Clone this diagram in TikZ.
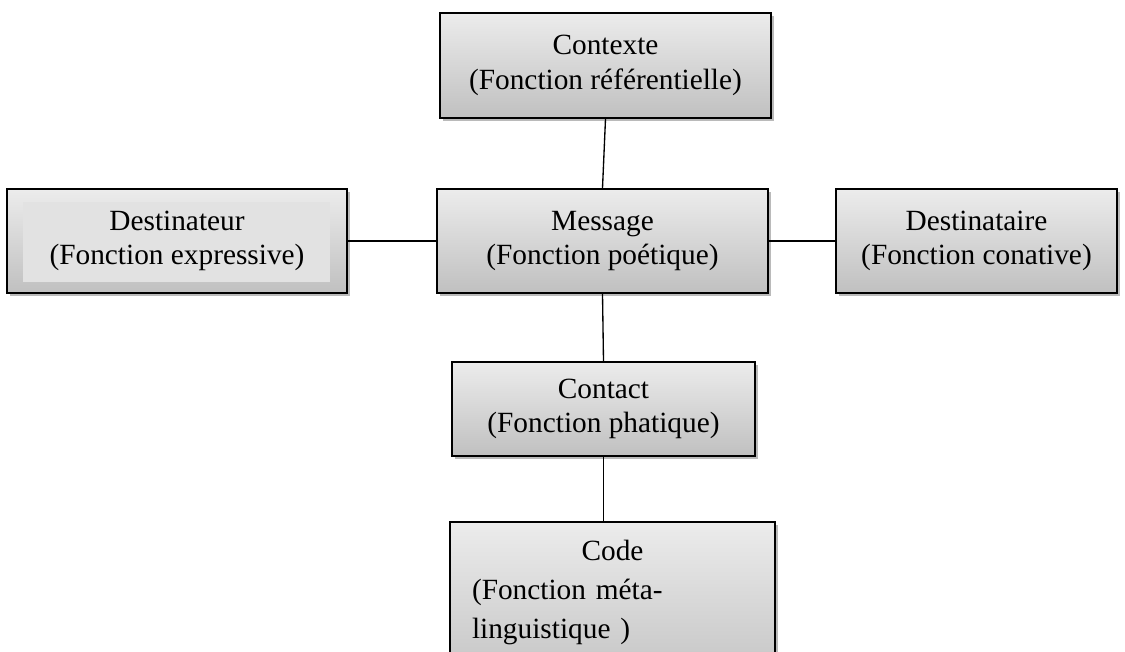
\documentclass[tikz,border=0pt]{standalone}
\usepackage{fontspec}
\setmainfont{Liberation Serif}
\usetikzlibrary{shadows}

\definecolor{boxtop}{RGB}{236,236,236}
\definecolor{boxbot}{RGB}{192,192,192}
\definecolor{boxin}{RGB}{226,226,226}

\begin{document}
\begin{tikzpicture}[x=0.75pt,y=-0.75pt,
    fn/.style={draw=black,line width=1.3pt,rectangle,align=center,
      top color=boxtop,bottom color=boxbot,inner sep=0pt,
      drop shadow={shadow xshift=2.5pt,shadow yshift=-2.5pt,opacity=0.45,fill=black!60},
      font=\fontsize{22pt}{26pt}\selectfont},
    link/.style={line width=1pt}]
  \useasboundingbox (0,0) rectangle (1125,652);
  \clip (0,0) rectangle (1125,652);
  % top
  \node[fn,minimum width=248.25pt,minimum height=78.75pt] (ctx) at(605.5,65.5)
    {Contexte\\(Fonction référentielle)};
  % middle row
  \node[fn,minimum width=255pt,minimum height=78pt,
    path picture={\fill[boxin] ([xshift=12pt,yshift=-9.5pt]path picture bounding box.north west)
      rectangle ([xshift=-12.5pt,yshift=8.5pt]path picture bounding box.south east);}]
    (dst) at(177,241) {Destinateur\\(Fonction expressive)};
  \node[fn,minimum width=248.25pt,minimum height=78pt] (msg) at(602.5,241)
    {Message\\(Fonction poétique)};
  \node[fn,minimum width=210.75pt,minimum height=78pt] (dre) at(976.5,241)
    {Destinataire\\(Fonction conative)};
  % bottom
  \node[fn,minimum width=227.25pt,minimum height=70.5pt] (cnt) at(603.5,409)
    {Contact\\(Fonction phatique)};
  \node[fn,anchor=north,text width=210.75pt,align=left,inner xsep=16.5pt,
    inner ysep=14pt,font=\fontsize{22pt}{29pt}\selectfont] (cod) at(612.5,521)
    {\makebox[\linewidth]{Code}\\ (Fonction méta-\\linguistique )\\ \mbox{}};
  % links
  \draw[link] (ctx.south) -- (msg.north);
  \draw[link] (dst.east) -- (msg.west);
  \draw[link] (msg.east) -- (dre.west);
  \draw[link] (msg.south) -- (cnt.north);
  \draw[link] (cnt.south) -- (cnt.south |- cod.north);
\end{tikzpicture}
\end{document}
